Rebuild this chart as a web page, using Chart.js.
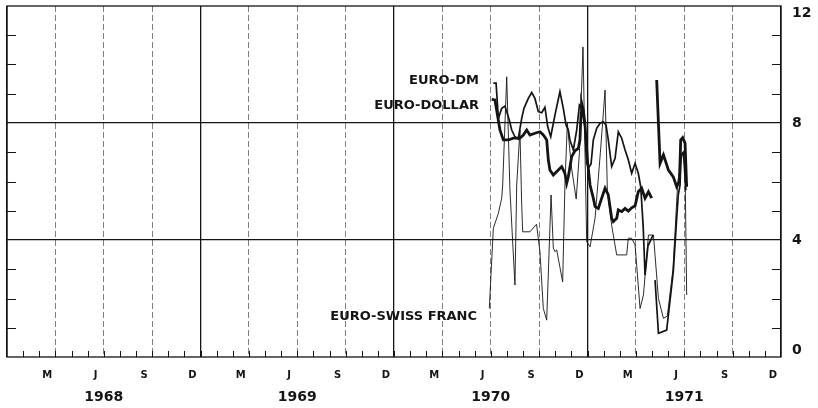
<!DOCTYPE html>
<html>
<head>
<meta charset="utf-8">
<script src="https://cdn.jsdelivr.net/npm/chart.js@4.4.1/dist/chart.umd.min.js"></script>
<style>
html,body{margin:0;padding:0;background:#fff;}
#wrap{width:818px;height:408px;position:relative;}
</style>
</head>
<body>
<div id="wrap"><canvas id="c"></canvas></div>
<script>
// x values: months since 1 Jan 1968 (fractional); y values: interest rate, percent
const quarterLetters = ['M','J','S','D'];
const yearLabels = ['1968','1969','1970','1971'];
const rateTickLabels = [0,4,8,12];

const dollarMonths = [30.06,30.26,30.57,30.78,31.09,31.4,31.81,32.02,32.23,32.43,32.74,33.05,33.26,33.47,33.57,33.67,33.88,34.19,34.4,34.6,34.71,34.81,35.02,35.22,35.43,35.53,35.6,35.64,35.74,35.84,36.0,36.16,36.36,36.47,36.67,36.88,37.09,37.29,37.5,37.6,37.81,37.91,38.12,38.33,38.53,38.74,38.95,39.15,39.36,39.57,39.78,39.98,40.1,40.29,40.5,40.71,41.02,41.32,41.53,41.7,41.78,41.9,42.05,42.15];
const dollarRates  = [8.81,8.79,7.76,7.42,7.42,7.48,7.48,7.59,7.76,7.59,7.65,7.7,7.59,7.42,6.74,6.39,6.22,6.39,6.51,6.28,5.94,6.16,6.85,7.05,7.13,7.42,8.33,8.67,8.44,7.99,6.7,5.88,5.43,5.14,5.08,5.43,5.77,5.54,4.74,4.63,4.74,5.03,4.97,5.08,4.99,5.1,5.17,5.65,5.77,5.43,5.65,5.43,null,9.47,6.62,6.91,6.39,6.16,5.82,6.0,7.42,7.5,7.31,5.82];

const dmMonths = [30.16,30.33,30.47,30.68,30.88,31.15,31.3,31.5,31.7,31.92,32.06,32.33,32.54,32.74,32.95,33.16,33.36,33.53,33.72,33.98,34.29,34.5,34.67,34.81,34.91,35.12,35.33,35.5,35.62,35.84,35.95,36.1,36.22,36.36,36.57,36.78,36.98,37.15,37.29,37.5,37.71,37.91,38.12,38.33,38.53,38.74,38.95,39.15,39.3,39.45,39.57,39.75,40.07,40.13,40.19,40.4,40.91,41.32,41.53,41.63,41.74,41.8,41.95,42.1];
const dmRates  = [9.36,9.36,8.16,8.5,8.58,8.1,7.76,7.53,7.45,8.16,8.5,8.84,9.04,8.84,8.39,8.35,8.54,7.88,7.53,8.27,9.07,8.5,7.93,7.76,7.42,7.08,7.76,8.62,8.55,7.88,6.62,6.5,6.6,7.42,7.82,7.99,8.04,7.93,7.42,6.51,6.79,7.7,7.48,7.08,6.74,6.28,6.62,6.28,5.82,4.5,2.8,3.8,4.17,null,2.63,0.81,0.92,2.92,4.74,5.54,5.88,6.9,7.0,5.7];

const swissMonths = [29.91,30.16,30.47,30.68,30.74,30.99,31.19,31.5,31.61,31.81,31.92,31.98,32.43,32.84,33.05,33.26,33.47,33.74,33.88,33.98,34.09,34.46,34.6,34.75,35.0,35.3,35.5,35.72,35.95,36.16,36.47,36.8,37.09,37.23,37.5,37.81,38.43,38.53,38.74,38.95,39.26,39.47,39.78,40.09,40.4,40.71,40.95,41.3,41.6,41.9,42.05,42.15];
const swissRates  = [1.66,4.4,4.91,5.43,5.88,9.58,5.71,2.46,5.88,7.76,5.2,4.28,4.28,4.54,3.6,1.66,1.26,5.54,3.72,3.6,3.66,2.57,5.88,7.99,6.5,5.4,7.0,10.6,3.94,3.77,4.75,7.0,9.13,5.7,4.5,3.49,3.49,4.06,4.06,3.83,1.66,2.12,4.17,4.17,2.0,1.32,1.4,3.0,6.0,7.0,6.5,2.12];

// series labels: [text, month anchor (right edge), rate anchor]
const seriesLabels = [
  ['EURO-DM', 29.27, 9.44],
  ['EURO-DOLLAR', 29.27, 8.59],
  ['EURO-SWISS FRANC', 29.15, 1.37]
];

function zip(xs, ys){ return xs.map((x,i)=>({x:x, y:ys[i]})); }

const INK = '#141414';

const framePlugin = {
  id: 'frame',
  afterDatasetsDraw(chart){
    const {ctx, chartArea:a, scales} = chart;
    const xs = scales.x, ys = scales.y;
    ctx.save();
    ctx.strokeStyle = INK;
    ctx.lineWidth = 1.3;
    ctx.strokeRect(a.left, a.top, a.right - a.left, a.bottom - a.top);
    ctx.lineWidth = 1;
    ctx.beginPath();
    for (let m = 1; m < 48; m++){
      const px = Math.round(xs.getPixelForValue(m)) + 0.5;
      ctx.moveTo(px, a.bottom);
      ctx.lineTo(px, a.bottom - 6);
    }
    for (let v = 1; v < 12; v++){
      if (v % 4 === 0) continue;
      const py = Math.round(ys.getPixelForValue(v)) + 0.5;
      ctx.moveTo(a.left, py); ctx.lineTo(a.left + 9, py);
      ctx.moveTo(a.right, py); ctx.lineTo(a.right - 9, py);
    }
    ctx.stroke();
    ctx.fillStyle = INK;
    ctx.font = 'bold 13px "DejaVu Sans"';
    ctx.textAlign = 'right';
    ctx.textBaseline = 'middle';
    seriesLabels.forEach(([t, mx, vy]) => {
      ctx.fillText(t, xs.getPixelForValue(mx), ys.getPixelForValue(vy));
    });
    ctx.restore();
  }
};

const halfMonthTicks = [];
for (let k = 0; k <= 96; k++) halfMonthTicks.push(k/2);

new Chart(document.getElementById('c'), {
  type: 'line',
  data: {
    datasets: [
      {label:'EURO-SWISS FRANC', data: zip(swissMonths, swissRates), borderColor: INK, borderWidth: 0.9, pointRadius: 0, pointHoverRadius: 0, tension: 0, spanGaps: false},
      {label:'EURO-DM', data: zip(dmMonths, dmRates), borderColor: INK, borderWidth: 1.7, pointRadius: 0, pointHoverRadius: 0, tension: 0, spanGaps: false},
      {label:'EURO-DOLLAR', data: zip(dollarMonths, dollarRates), borderColor: INK, borderWidth: 2.8, pointRadius: 0, pointHoverRadius: 0, tension: 0, spanGaps: false}
    ]
  },
  options: {
    responsive: true,
    maintainAspectRatio: false,
    animation: false,
    layout: {autoPadding: false, padding: {left: 7, right: 0, top: 6, bottom: 0}},
    plugins: {legend: {display: false}, tooltip: {enabled: false}},
    scales: {
      x: {
        type: 'linear', min: 0, max: 48, position: 'bottom',
        afterBuildTicks: (axis) => { axis.ticks = halfMonthTicks.map(v => ({value: v})); },
        afterFit: (axis) => { axis.height = 24; axis.paddingLeft = 0; axis.paddingRight = 0; },
        grid: {
          drawTicks: false,
          color: (c) => { const v = c.tick.value; if (v % 3 !== 0) return 'rgba(0,0,0,0)'; return v % 12 === 0 ? INK : '#5e5e5e'; },
          lineWidth: (c) => (c.tick.value % 12 === 0 ? 1.3 : 0.8)
        },
        border: {display: false, dash: (c) => (c.tick && c.tick.value % 12 !== 0 ? [6,3] : [])},
        ticks: {
          autoSkip: false, maxRotation: 0, minRotation: 0, padding: 12, color: INK,
          font: {family: 'DejaVu Sans', size: 10, weight: 'bold'},
          callback: (v) => { const r = v - 2.5; if (r >= 0 && r % 3 === 0) return quarterLetters[(r/3) % 4]; return ''; }
        }
      },
      xYear: {
        type: 'linear', min: 0, max: 48, position: 'bottom',
        afterBuildTicks: (axis) => { axis.ticks = yearLabels.map((y,i) => ({value: 6 + 12*i})); },
        afterFit: (axis) => { axis.height = 27; axis.paddingLeft = 0; axis.paddingRight = 0; },
        grid: {display: false, drawTicks: false},
        border: {display: false},
        ticks: {
          autoSkip: false, maxRotation: 0, padding: 8, color: INK,
          font: {family: 'DejaVu Sans', size: 14, weight: 'bold'},
          callback: (v) => yearLabels[(v - 6) / 12] || ''
        }
      },
      y: {
        type: 'linear', min: 0, max: 12, position: 'right',
        afterBuildTicks: (axis) => { const t=[]; for (let v=0; v<=12; v++) t.push({value:v}); axis.ticks = t; },
        afterFit: (axis) => { axis.width = 37; axis.paddingTop = 0; axis.paddingBottom = 0; },
        grid: {
          drawTicks: false,
          color: (c) => (c.tick.value === 4 || c.tick.value === 8 ? INK : 'rgba(0,0,0,0)'),
          lineWidth: 1.2
        },
        border: {display: false},
        ticks: {
          padding: 11, color: INK,
          font: {family: 'DejaVu Sans', size: 14, weight: 'bold', lineHeight: 1.0},
          callback: (v) => {
            if (!rateTickLabels.includes(v)) return '';
            if (v === 12) return ['', String(v)];
            if (v === 0) return [String(v), ''];
            return String(v);
          }
        }
      }
    }
  },
  plugins: [framePlugin]
});
</script>
</body>
</html>
